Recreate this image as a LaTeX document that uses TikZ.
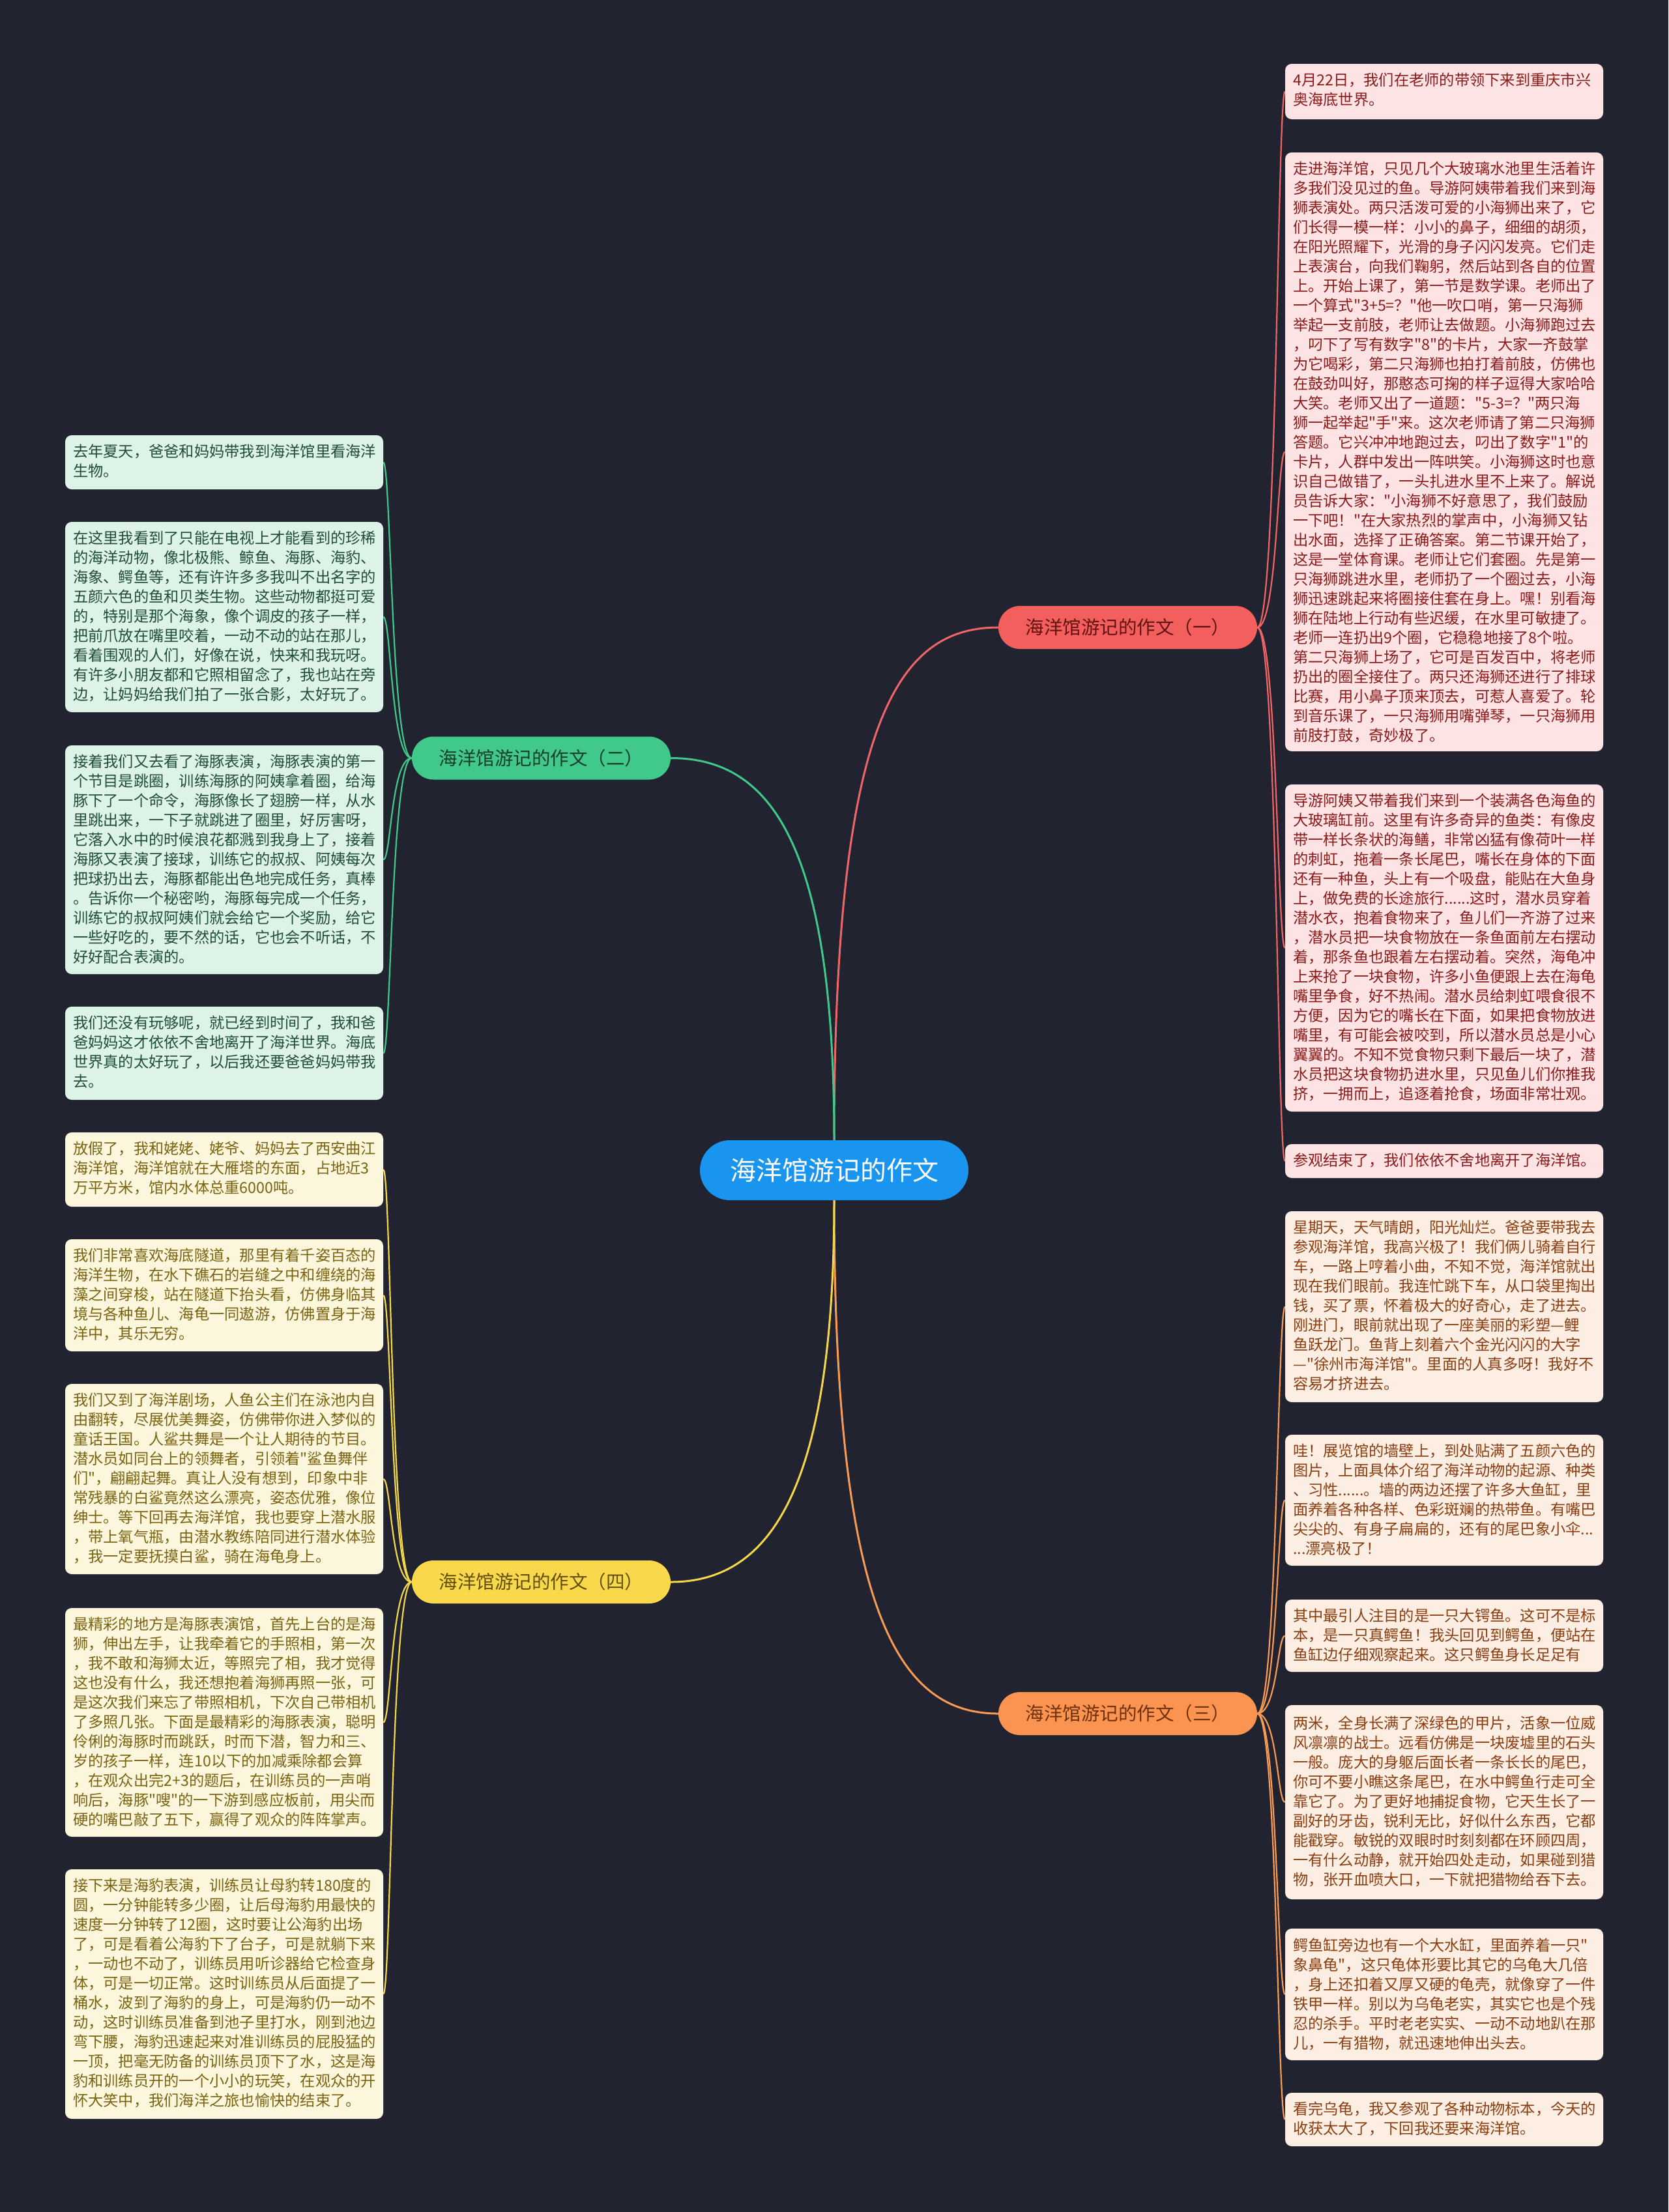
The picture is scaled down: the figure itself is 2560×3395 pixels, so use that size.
\documentclass[tikz,border=0pt]{standalone}
\usepackage{fontspec}
\newfontfamily\cjk{Noto Sans CJK SC}
\definecolor{bgc}{HTML}{212430}
\definecolor{cblue}{HTML}{1A95EF}
\definecolor{bred}{HTML}{F25F5C}
\definecolor{lred}{HTML}{F06666}
\definecolor{fred}{HTML}{FDE3E3}
\definecolor{tred}{HTML}{8B1A1A}
\definecolor{bora}{HTML}{FB9450}
\definecolor{lora}{HTML}{F99A55}
\definecolor{fora}{HTML}{FDEEE3}
\definecolor{tora}{HTML}{8A3D10}
\definecolor{bgre}{HTML}{40C98A}
\definecolor{lgre}{HTML}{40C98A}
\definecolor{fgre}{HTML}{DEF3E8}
\definecolor{tgre}{HTML}{1F4D36}
\definecolor{byel}{HTML}{F9D84C}
\definecolor{lyel}{HTML}{F5D84A}
\definecolor{fyel}{HTML}{FCF6DC}
\definecolor{tyel}{HTML}{7A6310}
\pgfdeclarelayer{bglayer}
\pgfdeclarelayer{edges}
\pgfsetlayers{bglayer,edges,main}
\begin{document}
\begin{tikzpicture}[x=1pt,y=-1pt,
  leafbox/.style={rounded corners=10pt, minimum width=488pt, inner sep=0pt},
  txt/.style={anchor=north west, inner sep=0pt, align=left, font=\cjk\fontsize{23.25pt}{30pt}\selectfont},
  branch/.style={rounded corners=33pt, minimum width=397pt, minimum height=66pt, inner sep=0pt, font=\cjk\fontsize{28.5pt}{34pt}\selectfont},
  conn/.style={line width=3pt},
  lconn/.style={line width=2.2pt}
]
\begin{pgfonlayer}{bglayer}
\fill[bgc] (0,0) rectangle (2560,3395);
\end{pgfonlayer}
\useasboundingbox (0,0) rectangle (2560,3395);

% center and branches
\node[fill=cblue, rounded corners=46pt, minimum width=412pt, minimum height=92pt, inner sep=0pt, text=white, font=\cjk\fontsize{40pt}{46pt}\selectfont] (c) at (1280,1796) {海洋馆游记的作文};
\node[branch, fill=bred, text=tred!70!black] (b1) at (1730.5,963) {海洋馆游记的作文（一）};
\node[branch, fill=bgre, text=tgre!80!black] (b2) at (830.5,1163.5) {海洋馆游记的作文（二）};
\node[branch, fill=bora, text=tora!80!black] (b3) at (1730.5,2630) {海洋馆游记的作文（三）};
\node[branch, fill=byel, text=tyel!80!black] (b4) at (830.5,2428) {海洋馆游记的作文（四）};

% right leaves (red)
\node[leafbox, fill=fred, minimum height=85pt] (r1) at (2216,140.5) {};
\node[txt, text=tred] at (1984,112) {4月22日，我们在老师的带领下来到重庆市兴\\奥海底世界。};
\node[leafbox, fill=fred, minimum height=919pt] (r2) at (2216,693.5) {};
\node[txt, text=tred] at (1984,248) {走进海洋馆，只见几个大玻璃水池里生活着许\\多我们没见过的鱼。导游阿姨带着我们来到海\\狮表演处。两只活泼可爱的小海狮出来了，它\\们长得一模一样：小小的鼻子，细细的胡须，\\在阳光照耀下，光滑的身子闪闪发亮。它们走\\上表演台，向我们鞠躬，然后站到各自的位置\\上。开始上课了，第一节是数学课。老师出了\\一个算式"3+5=？"他一吹口哨，第一只海狮\\举起一支前肢，老师让去做题。小海狮跑过去\\，叼下了写有数字"8"的卡片，大家一齐鼓掌\\为它喝彩，第二只海狮也拍打着前肢，仿佛也\\在鼓劲叫好，那憨态可掬的样子逗得大家哈哈\\大笑。老师又出了一道题："5-3=？"两只海\\狮一起举起"手"来。这次老师请了第二只海狮\\答题。它兴冲冲地跑过去，叼出了数字"1"的\\卡片，人群中发出一阵哄笑。小海狮这时也意\\识自己做错了，一头扎进水里不上来了。解说\\员告诉大家："小海狮不好意思了，我们鼓励\\一下吧！"在大家热烈的掌声中，小海狮又钻\\出水面，选择了正确答案。第二节课开始了，\\这是一堂体育课。老师让它们套圈。先是第一\\只海狮跳进水里，老师扔了一个圈过去，小海\\狮迅速跳起来将圈接住套在身上。嘿！别看海\\狮在陆地上行动有些迟缓，在水里可敏捷了。\\老师一连扔出9个圈，它稳稳地接了8个啦。\\第二只海狮上场了，它可是百发百中，将老师\\扔出的圈全接住了。两只还海狮还进行了排球\\比赛，用小鼻子顶来顶去，可惹人喜爱了。轮\\到音乐课了，一只海狮用嘴弹琴，一只海狮用\\前肢打鼓，奇妙极了。};
\node[leafbox, fill=fred, minimum height=502pt] (r3) at (2216,1455) {};
\node[txt, text=tred] at (1984,1218) {导游阿姨又带着我们来到一个装满各色海鱼的\\大玻璃缸前。这里有许多奇异的鱼类：有像皮\\带一样长条状的海鳝，非常凶猛有像荷叶一样\\的刺虹，拖着一条长尾巴，嘴长在身体的下面\\还有一种鱼，头上有一个吸盘，能贴在大鱼身\\上，做免费的长途旅行......这时，潜水员穿着\\潜水衣，抱着食物来了，鱼儿们一齐游了过来\\，潜水员把一块食物放在一条鱼面前左右摆动\\着，那条鱼也跟着左右摆动着。突然，海龟冲\\上来抢了一块食物，许多小鱼便跟上去在海龟\\嘴里争食，好不热闹。潜水员给刺虹喂食很不\\方便，因为它的嘴长在下面，如果把食物放进\\嘴里，有可能会被咬到，所以潜水员总是小心\\翼翼的。不知不觉食物只剩下最后一块了，潜\\水员把这块食物扔进水里，只见鱼儿们你推我\\挤，一拥而上，追逐着抢食，场面非常壮观。};
\node[leafbox, fill=fred, minimum height=52pt] (r4) at (2216,1782) {};
\node[txt, text=tred] at (1984,1770) {参观结束了，我们依依不舍地离开了海洋馆。};

% right leaves (orange)
\node[leafbox, fill=fora, minimum height=293pt] (r5) at (2216,2005.5) {};
\node[txt, text=tora] at (1984,1873) {星期天，天气晴朗，阳光灿烂。爸爸要带我去\\参观海洋馆，我高兴极了！我们俩儿骑着自行\\车，一路上哼着小曲，不知不觉，海洋馆就出\\现在我们眼前。我连忙跳下车，从口袋里掏出\\钱，买了票，怀着极大的好奇心，走了进去。\\刚进门，眼前就出现了一座美丽的彩塑—鲤\\鱼跃龙门。鱼背上刻着六个金光闪闪的大字\\—"徐州市海洋馆"。里面的人真多呀！我好不\\容易才挤进去。};
\node[leafbox, fill=fora, minimum height=201pt] (r6) at (2216,2302.5) {};
\node[txt, text=tora] at (1984,2216) {哇！展览馆的墙壁上，到处贴满了五颜六色的\\图片，上面具体介绍了海洋动物的起源、种类\\、习性......。墙的两边还摆了许多大鱼缸，里\\面养着各种各样、色彩斑斓的热带鱼。有嘴巴\\尖尖的、有身子扁扁的，还有的尾巴象小伞...\\...漂亮极了！};
\node[leafbox, fill=fora, minimum height=111pt] (r7) at (2216,2510.5) {};
\node[txt, text=tora] at (1984,2469) {其中最引人注目的是一只大锷鱼。这可不是标\\本，是一只真鳄鱼！我头回见到鳄鱼，便站在\\鱼缸边仔细观察起来。这只鳄鱼身长足足有};
\node[leafbox, fill=fora, minimum height=298pt] (r8) at (2216,2766) {};
\node[txt, text=tora] at (1984,2633) {两米，全身长满了深绿色的甲片，活象一位威\\风凛凛的战士。远看仿佛是一块废墟里的石头\\一般。庞大的身躯后面长者一条长长的尾巴，\\你可不要小瞧这条尾巴，在水中鳄鱼行走可全\\靠它了。为了更好地捕捉食物，它天生长了一\\副好的牙齿，锐利无比，好似什么东西，它都\\能戳穿。敏锐的双眼时时刻刻都在环顾四周，\\一有什么动静，就开始四处走动，如果碰到猎\\物，张开血喷大口，一下就把猎物给吞下去。};
\node[leafbox, fill=fora, minimum height=202pt] (r9) at (2216,3061) {};
\node[txt, text=tora] at (1984,2974) {鳄鱼缸旁边也有一个大水缸，里面养着一只"\\象鼻龟"，这只龟体形要比其它的乌龟大几倍\\，身上还扣着又厚又硬的龟壳，就像穿了一件\\铁甲一样。别以为乌龟老实，其实它也是个残\\忍的杀手。平时老老实实、一动不动地趴在那\\儿，一有猎物，就迅速地伸出头去。};
\node[leafbox, fill=fora, minimum height=82pt] (r10) at (2216,3253) {};
\node[txt, text=tora] at (1984,3226) {看完乌龟，我又参观了各种动物标本，今天的\\收获太大了，下回我还要来海洋馆。};

% left leaves (green)
\node[leafbox, fill=fgre, minimum height=83pt] (l1) at (344,709.5) {};
\node[txt, text=tgre] at (112,682) {去年夏天，爸爸和妈妈带我到海洋馆里看海洋\\生物。};
\node[leafbox, fill=fgre, minimum height=292pt] (l2) at (344,947) {};
\node[txt, text=tgre] at (112,815) {在这里我看到了只能在电视上才能看到的珍稀\\的海洋动物，像北极熊、鲸鱼、海豚、海豹、\\海象、鳄鱼等，还有许许多多我叫不出名字的\\五颜六色的鱼和贝类生物。这些动物都挺可爱\\的，特别是那个海象，像个调皮的孩子一样，\\把前爪放在嘴里咬着，一动不动的站在那儿，\\看着围观的人们，好像在说，快来和我玩呀。\\有许多小朋友都和它照相留念了，我也站在旁\\边，让妈妈给我们拍了一张合影，太好玩了。};
\node[leafbox, fill=fgre, minimum height=351pt] (l3) at (344,1319.5) {};
\node[txt, text=tgre] at (112,1158) {接着我们又去看了海豚表演，海豚表演的第一\\个节目是跳圈，训练海豚的阿姨拿着圈，给海\\豚下了一个命令，海豚像长了翅膀一样，从水\\里跳出来，一下子就跳进了圈里，好厉害呀，\\它落入水中的时候浪花都溅到我身上了，接着\\海豚又表演了接球，训练它的叔叔、阿姨每次\\把球扔出去，海豚都能出色地完成任务，真棒\\。告诉你一个秘密哟，海豚每完成一个任务，\\训练它的叔叔阿姨们就会给它一个奖励，给它\\一些好吃的，要不然的话，它也会不听话，不\\好好配合表演的。};
\node[leafbox, fill=fgre, minimum height=143pt] (l4) at (344,1616.5) {};
\node[txt, text=tgre] at (112,1559) {我们还没有玩够呢，就已经到时间了，我和爸\\爸妈妈这才依依不舍地离开了海洋世界。海底\\世界真的太好玩了，以后我还要爸爸妈妈带我\\去。};

% left leaves (yellow)
\node[leafbox, fill=fyel, minimum height=114pt] (l5) at (344,1795) {};
\node[txt, text=tyel] at (112,1752) {放假了，我和姥姥、姥爷、妈妈去了西安曲江\\海洋馆，海洋馆就在大雁塔的东面，占地近3\\万平方米，馆内水体总重6000吨。};
\node[leafbox, fill=fyel, minimum height=172pt] (l6) at (344,1988) {};
\node[txt, text=tyel] at (112,1916) {我们非常喜欢海底隧道，那里有着千姿百态的\\海洋生物，在水下礁石的岩缝之中和缠绕的海\\藻之间穿梭，站在隧道下抬头看，仿佛身临其\\境与各种鱼儿、海龟一同遨游，仿佛置身于海\\洋中，其乐无穷。};
\node[leafbox, fill=fyel, minimum height=292pt] (l7) at (344,2270) {};
\node[txt, text=tyel] at (112,2138) {我们又到了海洋剧场，人鱼公主们在泳池内自\\由翻转，尽展优美舞姿，仿佛带你进入梦似的\\童话王国。人鲨共舞是一个让人期待的节目。\\潜水员如同台上的领舞者，引领着"鲨鱼舞伴\\们"，翩翩起舞。真让人没有想到，印象中非\\常残暴的白鲨竟然这么漂亮，姿态优雅，像位\\绅士。等下回再去海洋馆，我也要穿上潜水服\\，带上氧气瓶，由潜水教练陪同进行潜水体验\\，我一定要抚摸白鲨，骑在海龟身上。};
\node[leafbox, fill=fyel, minimum height=351pt] (l8) at (344,2643.5) {};
\node[txt, text=tyel] at (112,2482) {最精彩的地方是海豚表演馆，首先上台的是海\\狮，伸出左手，让我牵着它的手照相，第一次\\，我不敢和海狮太近，等照完了相，我才觉得\\这也没有什么，我还想抱着海狮再照一张，可\\是这次我们来忘了带照相机，下次自己带相机\\了多照几张。下面是最精彩的海豚表演，聪明\\伶俐的海豚时而跳跃，时而下潜，智力和三、\\岁的孩子一样，连10以下的加减乘除都会算\\，在观众出完2+3的题后，在训练员的一声哨\\响后，海豚"嗖"的一下游到感应板前，用尖而\\硬的嘴巴敲了五下，赢得了观众的阵阵掌声。};
\node[leafbox, fill=fyel, minimum height=383pt] (l9) at (344,3060.5) {};
\node[txt, text=tyel] at (112,2883) {接下来是海豹表演，训练员让母豹转180度的\\圆，一分钟能转多少圈，让后母海豹用最快的\\速度一分钟转了12圈，这时要让公海豹出场\\了，可是看着公海豹下了台子，可是就躺下来\\，一动也不动了，训练员用听诊器给它检查身\\体，可是一切正常。这时训练员从后面提了一\\桶水，波到了海豹的身上，可是海豹仍一动不\\动，这时训练员准备到池子里打水，刚到池边\\弯下腰，海豹迅速起来对准训练员的屁股猛的\\一顶，把毫无防备的训练员顶下了水，这是海\\豹和训练员开的一个小小的玩笑，在观众的开\\怀大笑中，我们海洋之旅也愉快的结束了。};

\begin{pgfonlayer}{edges}
% main connectors
\draw[conn, lred] (c.north) .. controls (1280,1100) and (1380,963) .. (b1.west);
\draw[conn, lgre] (c.north) .. controls (1280,1290) and (1180,1163.5) .. (b2.east);
\draw[conn, lora] (c.south) .. controls (1280,2480) and (1380,2630) .. (b3.west);
\draw[conn, lyel] (c.south) .. controls (1280,2290) and (1180,2428) .. (b4.east);
% red leaves
\foreach \n/\yy in {r1/140.5, r2/693.5, r3/1455, r4/1782}
  \draw[lconn, lred] (b1.east) .. controls (1960,963) and (1960,\yy) .. (\n.west);
% orange leaves
\foreach \n/\yy in {r5/2005.5, r6/2302.5, r7/2510.5, r8/2766, r9/3061, r10/3253}
  \draw[lconn, lora] (b3.east) .. controls (1960,2630) and (1960,\yy) .. (\n.west);
% green leaves
\foreach \n/\yy in {l1/709.5, l2/947, l3/1319.5, l4/1616.5}
  \draw[lconn, lgre] (b2.west) .. controls (600,1163.5) and (600,\yy) .. (\n.east);
% yellow leaves
\foreach \n/\yy in {l5/1795, l6/1988, l7/2270, l8/2643.5, l9/3060.5}
  \draw[lconn, lyel] (b4.west) .. controls (600,2428) and (600,\yy) .. (\n.east);
\end{pgfonlayer}
\end{tikzpicture}
\end{document}
